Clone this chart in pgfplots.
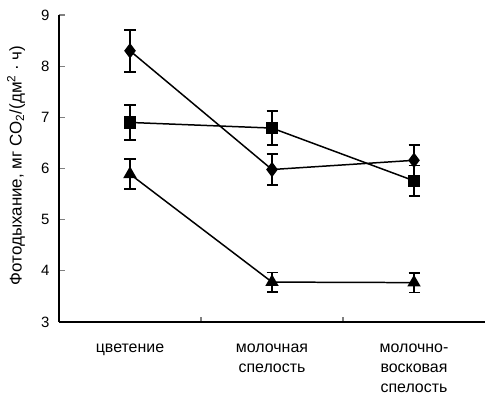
\documentclass[border=0pt]{standalone}
\usepackage{fontspec}
\setmainfont{Liberation Sans}
\usepackage{pgfplots}
\pgfplotsset{compat=1.18}
\begin{document}
\begin{tikzpicture}[x=1bp,y=1bp]
\begin{axis}[
  scale only axis,
  width=426bp, height=307bp,
  xmin=-0.5, xmax=2.5, ymin=3, ymax=9,
  axis lines=left,
  axis line style={line width=1.6pt, -},
  xtick={0,1,2},
  xticklabels={цветение, молочная\\спелость, молочно-\\восковая\\спелость},
  xticklabel style={align=center, font=\fontsize{16}{20.5}\selectfont, yshift=-18bp},
  major x tick style={draw=none},
  minor xtick={0.5,1.5},
  minor tick length=5bp,
  minor x tick style={line width=1.2pt},
  ytick={3,4,5,6,7,8,9},
  major tick length=6bp,
  y tick style={line width=1.2pt},
  tick align=inside,
  yticklabel style={font=\fontsize{15}{16}\selectfont, xshift=-6bp},
  /pgf/number format/assume math mode=true,
  ylabel={Фотодыхание, мг CO\textsubscript{2}/(дм\textsuperscript{2} · ч)},
  ylabel style={font=\fontsize{17}{19}\selectfont, at={(axis description cs:0,0.51)}, anchor=center, yshift=43bp},
  clip=false,
]
\addplot[black, line width=1.5pt, mark=diamond*, mark size=6.5bp,
  error bars/.cd, y dir=both, y explicit,
  error bar style={line width=1.6pt},
  error mark options={rotate=90, mark size=5.5bp, line width=1.6pt}]
  coordinates {(0,8.30) +- (0,0.41) (1,5.98) +- (0,0.30) (2,6.16) +- (0,0.30)};
\addplot[black, line width=1.5pt, mark=square*, mark size=5.5bp,
  error bars/.cd, y dir=both, y explicit,
  error bar style={line width=1.6pt},
  error mark options={rotate=90, mark size=5.5bp, line width=1.6pt}]
  coordinates {(0,6.90) +- (0,0.34) (1,6.79) +- (0,0.33) (2,5.76) +- (0,0.30)};
\addplot[black, line width=1.5pt, mark=triangle*, mark size=6.3bp,
  error bars/.cd, y dir=both, y explicit,
  error bar style={line width=1.6pt},
  error mark options={rotate=90, mark size=5.5bp, line width=1.6pt}]
  coordinates {(0,5.89) +- (0,0.29) (1,3.78) +- (0,0.19) (2,3.77) +- (0,0.19)};
\end{axis}
\pgfresetboundingbox
\path (current axis.south west) ++(-59bp,-74bp) coordinate (bbA);
\path (current axis.north east) ++(0bp,15bp) coordinate (bbB);
\useasboundingbox (bbA) rectangle (bbB);
\end{tikzpicture}
\end{document}
